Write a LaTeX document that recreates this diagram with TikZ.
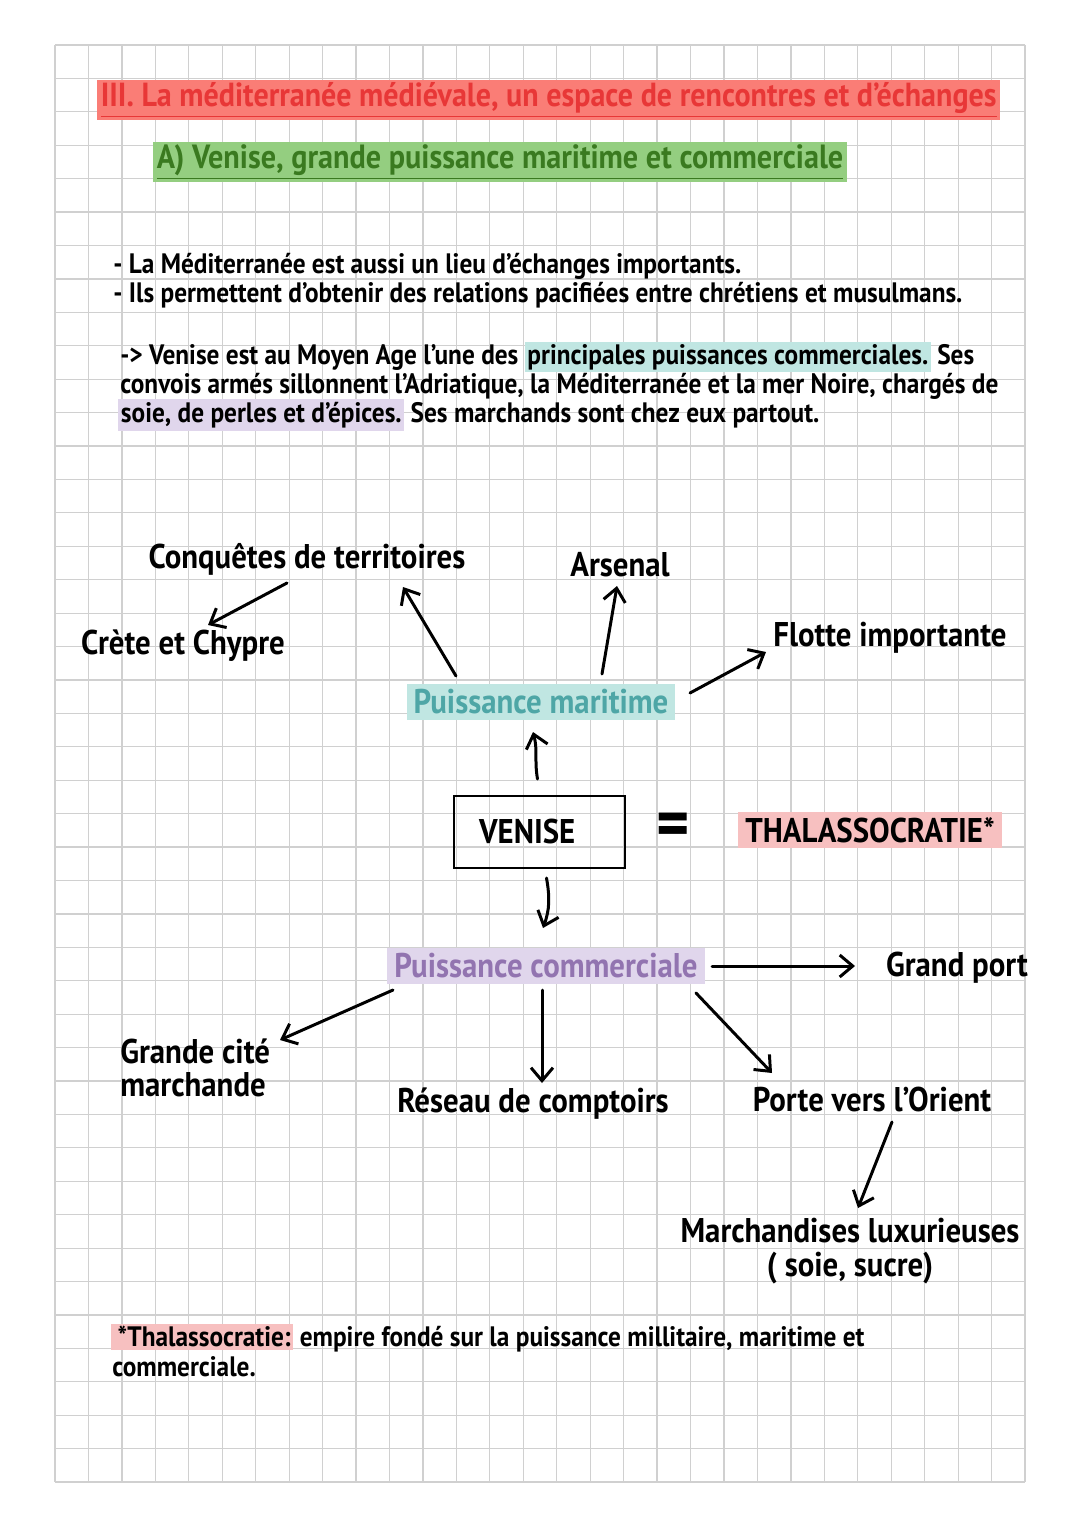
\documentclass[tikz,border=0pt]{standalone}
\usepackage{fontspec}
\setmainfont{PT Sans}[FakeStretch=0.9]
\usetikzlibrary{arrows.meta}

\definecolor{titlered}{RGB}{232,55,55}
\definecolor{titlehl}{RGB}{250,125,118}
\definecolor{subgreen}{RGB}{58,122,32}
\definecolor{subhl}{RGB}{148,206,128}
\definecolor{tealtxt}{RGB}{78,166,166}
\definecolor{tealhl}{RGB}{192,230,226}
\definecolor{purptxt}{RGB}{146,116,176}
\definecolor{purphl}{RGB}{224,214,236}
\definecolor{pinkhl}{RGB}{247,192,192}
\definecolor{gridgray}{RGB}{208,208,208}
\setlength{\fboxsep}{1.5pt}

\begin{document}
\begin{tikzpicture}[x=0.02cm, y=-0.02cm,
    gridline/.style={gridgray, line width=0.7pt},
    note/.style={font=\bfseries\fontsize{16}{17}\selectfont, inner sep=0pt, anchor=west},
    lbl/.style={font=\bfseries\fontsize{19.5}{19}\selectfont, inner sep=0pt},
    hl/.style={inner xsep=4pt, inner ysep=3pt},
    arr/.style={-{Straight Barb[length=2.6mm,width=4.4mm]}, line width=1.7pt, line cap=round, line join=round}]
    \useasboundingbox (0,0) rectangle (1080,1527);
    \fill[white] (0,0) rectangle (1080,1527);

    % squared paper
    \foreach \i in {0,...,29}
        \draw[gridline] ({55+\i*33.45},45) -- ({55+\i*33.45},1482);
    \foreach \j in {0,...,43}
        \draw[gridline] (55,{45+\j*33.42}) -- (1025,{45+\j*33.42});

    % headings
    \node[lbl, font=\bfseries\fontsize{19}{19}\selectfont, fill=titlehl, text=titlered, anchor=west, inner xsep=2pt, inner ysep=1.5pt] (titre) at (97,100)
        {\underline{III. La méditerranée médiévale, un espace de rencontres et d’échanges}};
    \node[lbl, font=\bfseries\fontsize{19.1}{19}\selectfont, fill=subhl, text=subgreen, anchor=west, inner xsep=2pt, inner ysep=1.5pt] (soustitre) at (153,162)
        {\underline{A) Venise, grande puissance maritime et commerciale}};

    % text
    \node[note] (ligne1) at (113,266) {- La Méditerranée est aussi un lieu d’échanges importants.};
    \node[note] (ligne2) at (113,295) {- Ils permettent d’obtenir des relations pacifiées entre chrétiens et musulmans.};
    \node[note] (para1) at (120,357) {-> Venise est au Moyen Age l'une des \colorbox{tealhl}{principales puissances commerciales.} Ses};
    \node[note] (para2) at (120,386) {convois armés sillonnent l'Adriatique, la Méditerranée et la mer Noire, chargés de};
    \node[note] (para3) at (118,415) {\colorbox{purphl}{soie, de perles et d'épices.} Ses marchands sont chez eux partout.};

    % map
    \node[lbl] (conq) at (307,559) {Conquêtes de territoires};
    \node[lbl] (arsenal) at (620,565) {Arsenal};
    \node[lbl] (crete) at (183,646) {Crète et Chypre};
    \node[lbl] (flotte) at (890,638) {Flotte importante};
    \node[lbl, hl, fill=tealhl, text=tealtxt] (pmar) at (541,702) {Puissance maritime};
    \node[lbl, draw, line width=1.4pt, minimum width=3.42cm, minimum height=1.44cm] (venise) at (539.5,832) {VENISE\hspace{14pt}\mbox{}};
    \node[font=\bfseries\fontsize{40}{40}\selectfont, inner sep=0pt] (egal) at (673,830) {=};
    \node[lbl, hl, fill=pinkhl] (thalasso) at (870,830) {THALASSOCRATIE*};
    \node[lbl, hl, fill=purphl, text=purptxt] (pcom) at (546,966) {Puissance commerciale};
    \node[lbl] (gport) at (957,968) {Grand port};
    \node[lbl, align=left, anchor=west] (gcite) at (120,1068) {Grande cité\\marchande};
    \node[lbl] (reseau) at (533,1104) {Réseau de comptoirs};
    \node[lbl] (porte) at (872,1099) {Porte vers l’Orient};
    \node[lbl, align=center] (march) at (850,1251) {Marchandises luxurieuses\\( soie, sucre)};

    \draw[arr] ([shift={(-20,24)}]conq.center) -- ([shift={(25,-21)}]crete.center);
    \draw[arr] ([shift={(-85,-26)}]pmar.center) -- ([shift={(96,28)}]conq.center);
    \draw[arr] ([shift={(61,-28)}]pmar.center) -- ([shift={(-3,21)}]arsenal.center);
    \draw[arr] ([shift={(149,-9)}]pmar.center) -- ([shift={(-124,14)}]flotte.center);
    \draw[arr] ([shift={(-2,-53)}]venise.center) to[out=100,in=-75] ([shift={(-8,30)}]pmar.center);
    \draw[arr] ([shift={(7,46)}]venise.center) to[out=-80,in=70] ([shift={(-3,-38)}]pcom.center);
    \draw[arr] ([shift={(166,0)}]pcom.center) -- ([shift={(-102,-2)}]gport.center);
    \draw[arr] ([shift={(-153,24)}]pcom.center) -- ([shift={(160,-28)}]gcite.west);
    \draw[arr] ([shift={(-4,24)}]pcom.center) -- ([shift={(9,-21)}]reseau.center);
    \draw[arr] ([shift={(150,27)}]pcom.center) -- ([shift={(-100,-26)}]porte.center);
    \draw[arr] ([shift={(20,23)}]porte.center) -- ([shift={(8,-43)}]march.center);

    % footnote
    \node[note] (renvoi1) at (111,1338) {\colorbox{pinkhl}{\hspace{2pt}*Thalassocratie:} empire fondé sur la puissance millitaire, maritime et};
    \node[note] (renvoi2) at (112,1367) {commerciale.};
\end{tikzpicture}
\end{document}
